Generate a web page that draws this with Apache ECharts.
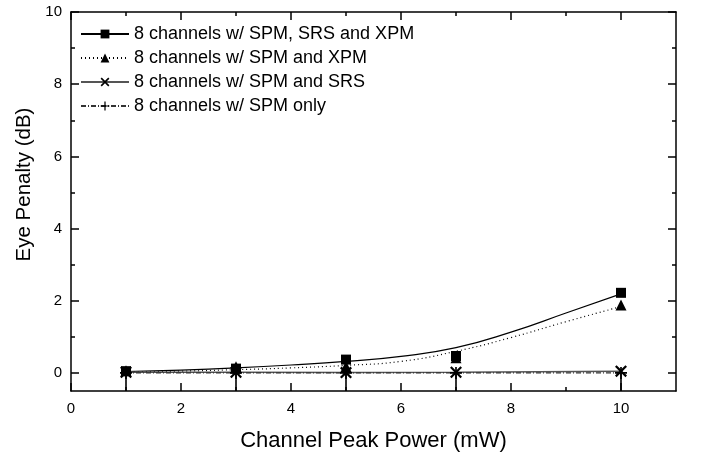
<!DOCTYPE html>
<html><head><meta charset="utf-8">
<script src="https://cdn.jsdelivr.net/npm/echarts@6/dist/echarts.min.js"></script>
<style>html,body{margin:0;padding:0;background:#fff}#c{width:704px;height:457px}</style>
</head><body><div id="c"></div>
<script>
// ---- data ----
const seriesNames = [
  '8 channels w/ SPM, SRS and XPM',
  '8 channels w/ SPM and XPM',
  '8 channels w/ SPM and SRS',
  '8 channels w/ SPM only'
];
const xPoints = [1, 3, 5, 7, 10];
const spmSrsXpm = [0.05, 0.12, 0.37, 0.47, 2.22];
const spmXpm    = [0.06, 0.17, 0.18, 0.42, 1.88];
const spmSrs    = [0.02, 0.02, 0.01, 0.02, 0.05];
const spmOnly   = [0.0, 0.0, 0.0, 0.0, 0.0];
// fitted curves
const xFit = [1, 2, 3, 4, 5, 6, 7, 8, 9, 10];
const fitSpmSrsXpm = [0.04, 0.08, 0.14, 0.22, 0.32, 0.46, 0.70, 1.13, 1.66, 2.19];
const fitSpmXpm    = [0.03, 0.05, 0.09, 0.14, 0.21, 0.32, 0.60, 0.98, 1.42, 1.84];
// ticks
const xMajorTicks = [0, 2, 4, 6, 8, 10];
const xMinorTicks = [1, 3, 5, 7, 9];
const yMajorTicks = [0, 2, 4, 6, 8, 10];
const yMinorTicks = [1, 3, 5, 7, 9];
const xRange = [0, 11];
const yRange = [-0.5, 10];
const xTitle = 'Channel Peak Power (mW)';
const yTitle = 'Eye Penalty (dB)';

// ---- chart ----
const FONT = '"Liberation Sans", Arial, sans-serif';
const pair = (xs, ys) => xs.map((x, i) => [x, ys[i]]);
const SYM_X = 'path://M0,1.3L1.3,0L5,3.7L8.7,0L10,1.3L6.3,5L10,8.7L8.7,10L5,6.3L1.3,10L0,8.7L3.7,5Z';
const SYM_PLUS = 'path://M4.3,0H5.7V4.3H10V5.7H5.7V10H4.3V5.7H0V4.3H4.3Z';

function xAx(pos, ticks, len, main) {
  return {
    type: 'value', position: pos, min: xRange[0], max: xRange[1],
    axisLine: { show: main, onZero: false, lineStyle: { color: '#000', width: 1.5 } },
    axisTick: { show: true, inside: true, length: len, customValues: ticks, lineStyle: { color: '#000', width: 1.5 } },
    axisLabel: main && pos === 'bottom' ? { show: true, customValues: xMajorTicks, color: '#000', fontSize: 15, fontFamily: FONT, margin: 10 } : { show: false },
    splitLine: { show: false },
    name: main && pos === 'bottom' ? xTitle : '',
    nameLocation: 'middle', nameGap: 39,
    nameTextStyle: { color: '#000', fontSize: 22, fontFamily: FONT }
  };
}
function yAx(pos, ticks, len, main) {
  return {
    type: 'value', position: pos, min: yRange[0], max: yRange[1],
    axisLine: { show: main, onZero: false, lineStyle: { color: '#000', width: 1.5 } },
    axisTick: { show: true, inside: true, length: len, customValues: ticks, lineStyle: { color: '#000', width: 1.5 } },
    axisLabel: main && pos === 'left' ? { show: true, customValues: yMajorTicks, color: '#000', fontSize: 15, fontFamily: FONT, margin: 9 } : { show: false },
    splitLine: { show: false },
    name: main && pos === 'left' ? yTitle : '',
    nameLocation: 'middle', nameGap: 35,
    nameTextStyle: { color: '#000', fontSize: 20.5, fontFamily: FONT, padding: [0, 0, 0, 34] }
  };
}

const chart = echarts.init(document.getElementById('c'), null, { renderer: 'canvas' });
chart.setOption({
  animation: false,
  backgroundColor: '#fff',
  grid: { left: 71, right: 28, top: 12, bottom: 65 },
  xAxis: [
    xAx('bottom', xMajorTicks, 8, true),
    xAx('top', xMajorTicks, 8, true),
    xAx('bottom', xMinorTicks, 4, false),
    xAx('top', xMinorTicks, 4, false)
  ],
  yAxis: [
    yAx('left', yMajorTicks, 8, true),
    yAx('right', yMajorTicks, 8, true),
    yAx('left', yMinorTicks, 4, false),
    yAx('right', yMinorTicks, 4, false)
  ],
  legend: {
    data: seriesNames,
    orient: 'vertical', left: 75, top: 20,
    itemWidth: 48, itemHeight: 11, itemGap: 6,
    textStyle: { color: '#000', fontSize: 18, fontFamily: FONT }
  },
  series: [
    {
      name: 'drop', type: 'bar', xAxisIndex: 0, yAxisIndex: 0,
      data: xPoints.map(x => [x, yRange[0]]),
      barWidth: 1.6, silent: true, itemStyle: { color: '#000', opacity: 1 }, z: 2
    },
    {
      name: seriesNames[0], type: 'line', data: pair(xFit, fitSpmSrsXpm), smooth: true,
      symbol: 'rect', symbolSize: 10, showSymbol: false,
      lineStyle: { color: '#000', width: 1.2 }, itemStyle: { color: '#000' }, z: 3
    },
    {
      name: seriesNames[1], type: 'line', data: pair(xFit, fitSpmXpm), smooth: true,
      symbol: 'triangle', symbolSize: 11, showSymbol: false,
      lineStyle: { color: '#000', width: 1.2, type: [1, 3] }, itemStyle: { color: '#000' }, z: 3
    },
    {
      name: seriesNames[2], type: 'line', data: pair(xPoints, spmSrs),
      symbol: SYM_X, symbolSize: 12, showSymbol: true,
      lineStyle: { color: '#555', width: 1.5 }, itemStyle: { color: '#000' }, z: 4
    },
    {
      name: seriesNames[3], type: 'line', data: pair(xPoints, spmOnly),
      symbol: SYM_PLUS, symbolSize: 12, showSymbol: true,
      lineStyle: { color: '#333', width: 1.2, type: [5, 2, 1, 2] }, itemStyle: { color: '#000' }, z: 4
    },
    {
      name: 'm1', type: 'scatter', data: pair(xPoints, spmSrsXpm),
      symbol: 'rect', symbolSize: 10, itemStyle: { color: '#000', opacity: 1 }, z: 6
    },
    {
      name: 'm2', type: 'scatter', data: pair(xPoints, spmXpm),
      symbol: 'triangle', symbolSize: 11, itemStyle: { color: '#000', opacity: 1 }, z: 5
    }
  ]
});
</script>
</body></html>
